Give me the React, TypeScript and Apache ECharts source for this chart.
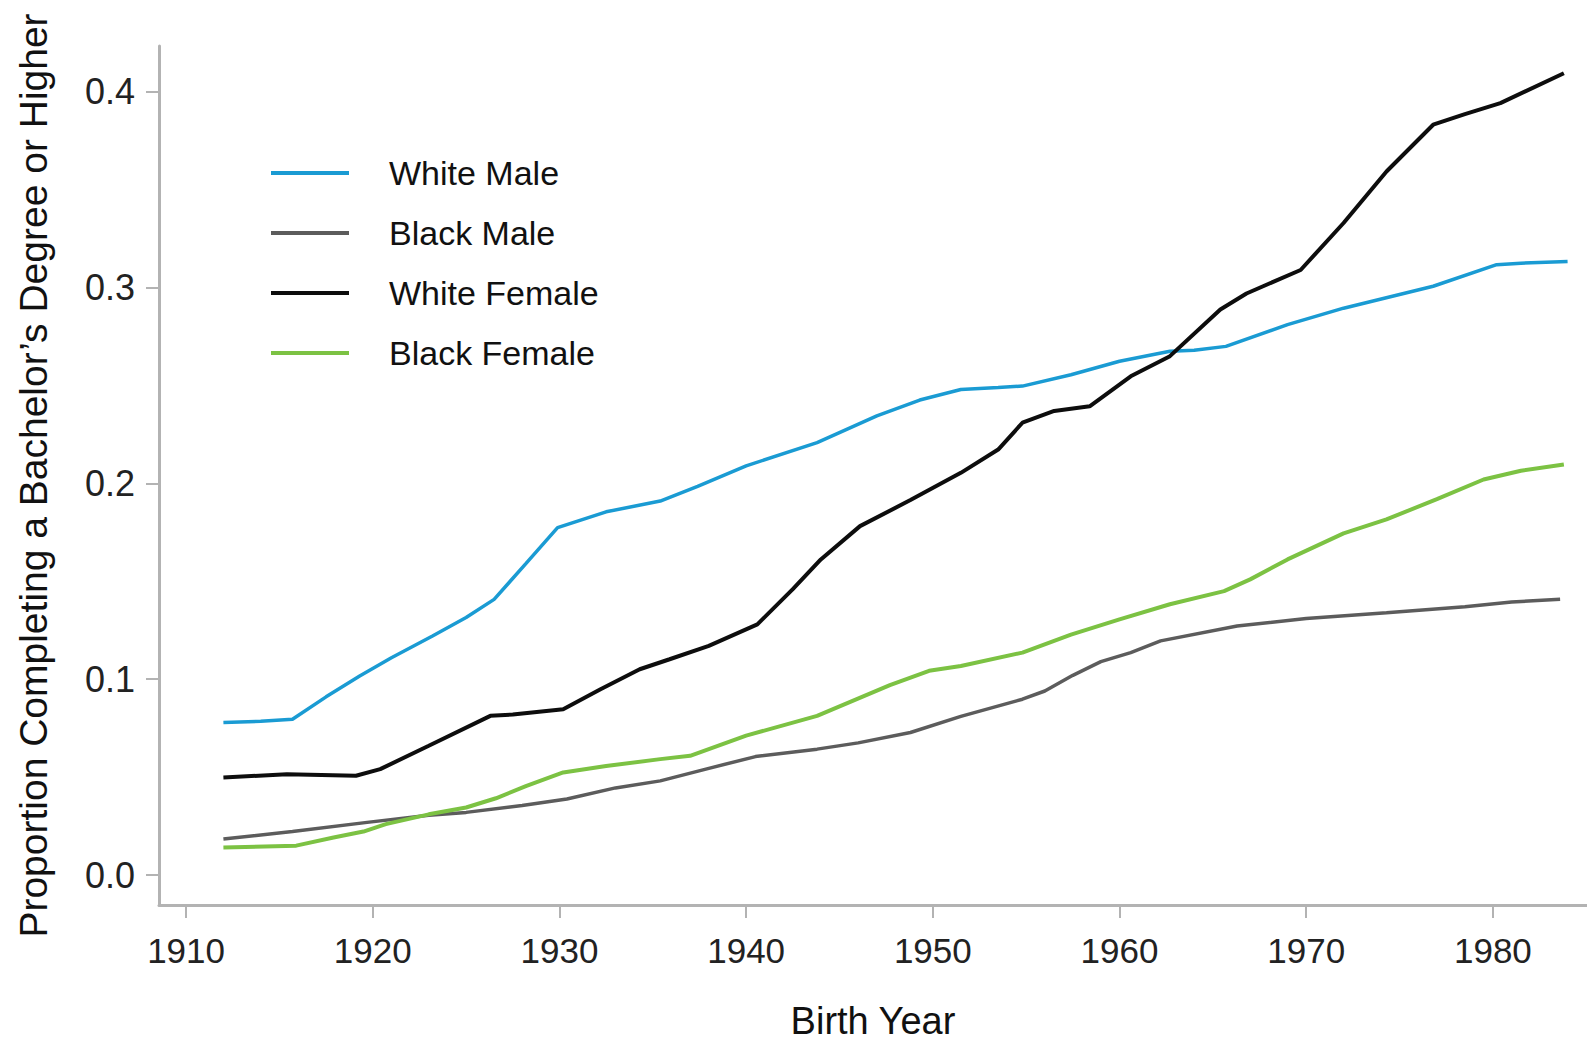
import React, { useEffect, useRef } from "react";
import * as echarts from "echarts";

const seriesNames = ["White Male", "Black Male", "White Female", "Black Female"];
const seriesColors = ["#1a9bd3", "#5c5c5c", "#0d0d0d", "#7cc243"];

const whiteMaleYears = [1912, 1914, 1915.7, 1917.5, 1919.3, 1921, 1923.2, 1925, 1926.5, 1928.2, 1929.9, 1932.5, 1935.4, 1937.4, 1940, 1943.8, 1947, 1949.3, 1951.5, 1953.5, 1954.8, 1957.4, 1960, 1962.7, 1964, 1965.7, 1969, 1972, 1976.8, 1980.2, 1981.5, 1984];
const whiteMaleValues = [0.0779, 0.0785, 0.0796, 0.091, 0.1017, 0.111, 0.1221, 0.1315, 0.1408, 0.159, 0.1774, 0.1855, 0.191, 0.1985, 0.209, 0.2208, 0.2345, 0.2426, 0.248, 0.249, 0.2497, 0.2555, 0.2624, 0.2675, 0.268, 0.27, 0.2811, 0.2895, 0.3007, 0.3117, 0.3125, 0.3134];

const blackMaleYears = [1912, 1915.7, 1919.7, 1923, 1925, 1928, 1930.4, 1933, 1935.4, 1938, 1940.5, 1943.8, 1946, 1948.8, 1951.5, 1954.8, 1956, 1957.5, 1959, 1960.6, 1962.2, 1966.3, 1970, 1974.3, 1978.5, 1981, 1983.6];
const blackMaleValues = [0.0184, 0.0222, 0.0269, 0.0305, 0.032, 0.0355, 0.0388, 0.0445, 0.0481, 0.0545, 0.0605, 0.0643, 0.0675, 0.0728, 0.081, 0.0898, 0.094, 0.102, 0.109, 0.1136, 0.1196, 0.1272, 0.131, 0.134, 0.137, 0.1395, 0.1408];

const whiteFemaleYears = [1912, 1915.4, 1919.1, 1920.4, 1923, 1926.3, 1927.5, 1930.2, 1932.2, 1934.3, 1935.9, 1938, 1940.6, 1942.5, 1944, 1946.1, 1948.8, 1951.5, 1953.5, 1954.8, 1956.5, 1958.4, 1960.6, 1962.7, 1965.4, 1966.8, 1969.7, 1972, 1974.3, 1976.8, 1978.5, 1980.4, 1983.8];
const whiteFemaleValues = [0.0498, 0.0515, 0.0507, 0.0541, 0.066, 0.0813, 0.082, 0.0847, 0.0949, 0.1051, 0.1102, 0.117, 0.128, 0.146, 0.1612, 0.1782, 0.1915, 0.2054, 0.2173, 0.231, 0.237, 0.2394, 0.2547, 0.265, 0.2888, 0.297, 0.309, 0.333, 0.3593, 0.3832, 0.3886, 0.3942, 0.4095];

const blackFemaleYears = [1912, 1915.9, 1917.9, 1919.5, 1920.7, 1923, 1925, 1926.6, 1928.2, 1930.2, 1932.5, 1935.4, 1937, 1940, 1943.8, 1947.7, 1949.8, 1951.5, 1954.8, 1957.4, 1960, 1962.7, 1965.6, 1967, 1969, 1972, 1974.3, 1977, 1979.5, 1981.5, 1983.8];
const blackFemaleValues = [0.0141, 0.015, 0.0192, 0.0222, 0.026, 0.031, 0.0345, 0.0392, 0.0454, 0.0524, 0.0557, 0.0592, 0.0609, 0.0712, 0.0813, 0.097, 0.1043, 0.1068, 0.1136, 0.1228, 0.1306, 0.1383, 0.145, 0.151, 0.1612, 0.1745, 0.1816, 0.192, 0.202, 0.2065, 0.2097];

const xTicks = [1910, 1920, 1930, 1940, 1950, 1960, 1970, 1980];
const yTicks = [0, 0.1, 0.2, 0.3, 0.4];

const FONT = "'Liberation Sans', Arial, Helvetica, sans-serif";

function pairs(xs: number[], ys: number[]) {
  return xs.map((x, i) => [x, ys[i]]);
}

export default function App() {
  const ref = useRef<HTMLDivElement>(null);
  useEffect(() => {
    if (!ref.current) return;
    const chart = echarts.init(ref.current, undefined, { renderer: "svg" });
    const allYears = [whiteMaleYears, blackMaleYears, whiteFemaleYears, blackFemaleYears];
    const allValues = [whiteMaleValues, blackMaleValues, whiteFemaleValues, blackFemaleValues];
    const widths = [3.5, 3.5, 4, 4];
    chart.setOption({
      animation: false,
      backgroundColor: "#ffffff",
      textStyle: { fontFamily: FONT },
      grid: { left: 159, right: 0, top: 46, bottom: 138, containLabel: false },
      legend: {
        orient: "vertical",
        left: 271,
        top: 156,
        padding: 0,
        icon: "rect",
        itemWidth: 78,
        itemHeight: 4,
        itemGap: 26,
        data: seriesNames,
        textStyle: { fontSize: 34, color: "#111", fontFamily: FONT, padding: [0, 0, 0, 35] },
      },
      xAxis: {
        type: "value",
        min: 1908.55,
        max: 1985.04,
        name: "Birth Year",
        nameLocation: "middle",
        nameGap: 97,
        nameTextStyle: { fontSize: 38, color: "#111", fontFamily: FONT },
        axisLine: { show: true, onZero: false, lineStyle: { color: "#b3b3b3", width: 3 } },
        axisTick: { show: true, length: 13, lineStyle: { color: "#b3b3b3", width: 2 }, customValues: xTicks },
        axisLabel: {
          fontSize: 35,
          color: "#222",
          margin: 28,
          fontFamily: FONT,
          customValues: xTicks,
          formatter: (v: number) => String(Math.round(v)),
        },
        splitLine: { show: false },
      },
      yAxis: {
        type: "value",
        min: -0.0153,
        max: 0.4234,
        name: "Proportion Completing a Bachelor\u2019s Degree or Higher",
        nameLocation: "middle",
        nameRotate: 90,
        nameGap: 106,
        nameTextStyle: { fontSize: 39, color: "#111", fontFamily: FONT },
        axisLine: { show: true, onZero: false, lineStyle: { color: "#b3b3b3", width: 3 } },
        axisTick: { show: true, length: 13, lineStyle: { color: "#b3b3b3", width: 2 }, customValues: yTicks },
        axisLabel: {
          fontSize: 36,
          color: "#222",
          margin: 24,
          fontFamily: FONT,
          customValues: yTicks,
          formatter: (v: number) => v.toFixed(1),
        },
        splitLine: { show: false },
      },
      series: seriesNames.map((name, i) => ({
        name,
        type: "line",
        data: pairs(allYears[i], allValues[i]),
        showSymbol: false,
        symbol: "none",
        smooth: false,
        itemStyle: { color: seriesColors[i] },
        lineStyle: { color: seriesColors[i], width: widths[i] },
      })),
    });
    return () => chart.dispose();
  }, []);
  return (
    <div
      ref={ref}
      style={{ position: "fixed", left: 0, top: 0, width: 1587, height: 1045, background: "#fff" }}
    />
  );
}
